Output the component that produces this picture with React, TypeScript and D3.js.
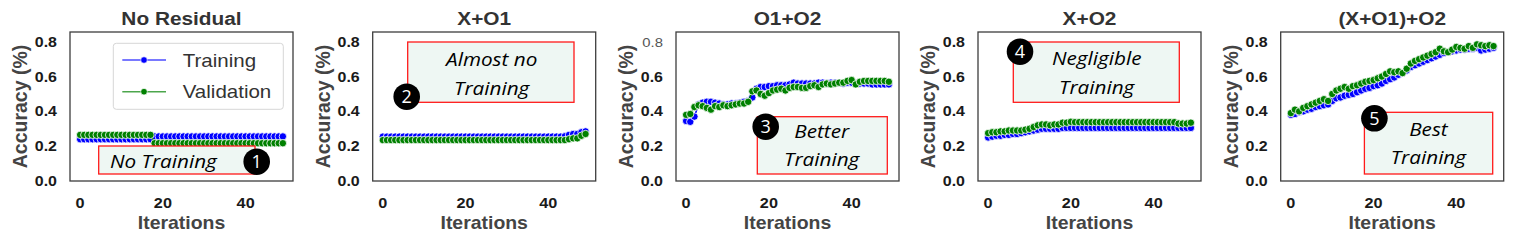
import React from "react";
import * as d3 from "d3";

const titles = ["No Residual", "X+O1", "O1+O2", "X+O2", "(X+O1)+O2"];
const seriesNames = ["Training", "Validation"];
const yTicks = [0, 0.2, 0.4, 0.6, 0.8];
const xTicks = [0, 20, 40];

const trainNoRes = [
  0.24, 0.24, 0.24, 0.24, 0.24, 0.24, 0.24, 0.24, 0.24, 0.24,
  0.24, 0.24, 0.24, 0.24, 0.24, 0.24, 0.24, 0.24, 0.256, 0.256,
  0.256, 0.256, 0.256, 0.256, 0.256, 0.256, 0.256, 0.256, 0.256, 0.256,
  0.256, 0.256, 0.256, 0.256, 0.256, 0.256, 0.256, 0.256, 0.256, 0.256,
  0.256, 0.256, 0.256, 0.256, 0.256, 0.256, 0.256, 0.256, 0.256, 0.256,
];
const valNoRes = [
  0.265, 0.265, 0.265, 0.265, 0.265, 0.265, 0.265, 0.265, 0.265, 0.265,
  0.265, 0.265, 0.265, 0.265, 0.265, 0.265, 0.265, 0.265, 0.217, 0.217,
  0.217, 0.217, 0.217, 0.217, 0.217, 0.217, 0.217, 0.217, 0.217, 0.217,
  0.217, 0.217, 0.217, 0.217, 0.217, 0.217, 0.217, 0.217, 0.217, 0.217,
  0.217, 0.217, 0.217, 0.217, 0.217, 0.217, 0.217, 0.217, 0.217, 0.217,
];
const trainXO1 = [
  0.255, 0.255, 0.255, 0.255, 0.255, 0.255, 0.255, 0.255, 0.255, 0.255,
  0.255, 0.255, 0.255, 0.255, 0.255, 0.255, 0.255, 0.255, 0.255, 0.255,
  0.255, 0.255, 0.255, 0.255, 0.255, 0.255, 0.255, 0.255, 0.255, 0.255,
  0.255, 0.255, 0.255, 0.255, 0.255, 0.255, 0.255, 0.255, 0.255, 0.255,
  0.255, 0.255, 0.255, 0.255, 0.257, 0.265, 0.27, 0.27, 0.28, 0.285,
];
const valXO1 = [
  0.235, 0.235, 0.235, 0.235, 0.235, 0.235, 0.235, 0.235, 0.235, 0.235,
  0.235, 0.235, 0.235, 0.235, 0.235, 0.235, 0.235, 0.235, 0.235, 0.235,
  0.235, 0.235, 0.235, 0.235, 0.235, 0.235, 0.235, 0.235, 0.235, 0.235,
  0.235, 0.235, 0.235, 0.235, 0.235, 0.235, 0.235, 0.235, 0.235, 0.235,
  0.235, 0.235, 0.235, 0.235, 0.235, 0.24, 0.245, 0.245, 0.26, 0.27,
];
const trainO1O2 = [
  0.345, 0.34, 0.37, 0.44, 0.45, 0.455, 0.455, 0.45, 0.445, 0.44,
  0.44, 0.445, 0.445, 0.45, 0.455, 0.46, 0.48, 0.53, 0.54, 0.54,
  0.545, 0.545, 0.55, 0.55, 0.55, 0.555, 0.565, 0.56, 0.56, 0.56,
  0.56, 0.56, 0.565, 0.565, 0.56, 0.565, 0.565, 0.565, 0.56, 0.565,
  0.565, 0.56, 0.56, 0.56, 0.56, 0.555, 0.555, 0.555, 0.555, 0.555,
];
const valO1O2 = [
  0.38, 0.385, 0.425, 0.435, 0.43, 0.42, 0.41, 0.43, 0.425, 0.435,
  0.43, 0.435, 0.44, 0.445, 0.445, 0.455, 0.515, 0.52, 0.5, 0.49,
  0.505, 0.52, 0.525, 0.53, 0.52, 0.535, 0.54, 0.54, 0.535, 0.535,
  0.545, 0.55, 0.54, 0.555, 0.56, 0.555, 0.56, 0.565, 0.565, 0.575,
  0.58, 0.555, 0.57, 0.575, 0.575, 0.575, 0.575, 0.575, 0.575, 0.57,
];
const trainXO2 = [
  0.25, 0.255, 0.26, 0.26, 0.265, 0.265, 0.27, 0.27, 0.275, 0.28,
  0.285, 0.29, 0.295, 0.3, 0.3, 0.3, 0.3, 0.3, 0.305, 0.305,
  0.305, 0.305, 0.305, 0.305, 0.305, 0.305, 0.305, 0.305, 0.305, 0.305,
  0.305, 0.305, 0.305, 0.305, 0.305, 0.305, 0.305, 0.305, 0.305, 0.305,
  0.305, 0.305, 0.305, 0.305, 0.305, 0.305, 0.305, 0.305, 0.305, 0.305,
];
const valXO2 = [
  0.275, 0.28, 0.28, 0.285, 0.285, 0.29, 0.29, 0.29, 0.29, 0.295,
  0.3, 0.31, 0.32, 0.325, 0.325, 0.32, 0.325, 0.325, 0.335, 0.335,
  0.34, 0.338, 0.338, 0.338, 0.338, 0.338, 0.338, 0.338, 0.338, 0.338,
  0.338, 0.338, 0.338, 0.338, 0.338, 0.338, 0.338, 0.338, 0.338, 0.338,
  0.338, 0.338, 0.338, 0.338, 0.338, 0.338, 0.33, 0.33, 0.33, 0.335,
];
const trainXO1O2 = [
  0.38, 0.385, 0.395, 0.4, 0.41, 0.415, 0.425, 0.43, 0.435, 0.44,
  0.46, 0.475, 0.48, 0.49, 0.495, 0.5, 0.51, 0.52, 0.53, 0.535,
  0.545, 0.55, 0.56, 0.575, 0.585, 0.595, 0.61, 0.62, 0.635, 0.655,
  0.665, 0.675, 0.685, 0.695, 0.705, 0.715, 0.725, 0.735, 0.74, 0.745,
  0.75, 0.755, 0.755, 0.76, 0.76, 0.765, 0.75, 0.755, 0.76, 0.765,
];
const valXO1O2 = [
  0.39, 0.41, 0.4, 0.42, 0.43, 0.44, 0.45, 0.46, 0.47, 0.46,
  0.5, 0.52, 0.53, 0.54, 0.53, 0.545, 0.55, 0.56, 0.57, 0.575,
  0.58, 0.59, 0.6, 0.615, 0.63, 0.625, 0.63, 0.62, 0.645, 0.675,
  0.69, 0.7, 0.71, 0.72, 0.73, 0.74, 0.76, 0.745, 0.74, 0.755,
  0.77, 0.765, 0.76, 0.775, 0.765, 0.785, 0.78, 0.775, 0.78, 0.775,
];

const trainSeries = [trainNoRes, trainXO1, trainO1O2, trainXO2, trainXO1O2];
const valSeries = [valNoRes, valXO1, valO1O2, valXO2, valXO1O2];

const annotationLines = [
  ["No Training"],
  ["Almost no", "Training"],
  ["Better", "Training"],
  ["Negligible", "Training"],
  ["Best", "Training"],
];
const annotationNumbers = ["1", "2", "3", "4", "5"];

// layout (pixel offsets relative to each panel frame)
const layout = {
  lefts: [70, 372.7, 676, 978, 1280.7],
  width: 223,
  top: 32,
  bottom: 181,
};
const boxes = [
  { x0: 28.7, x1: 185, y0: 114, y1: 142, tx: 40, anchor: "start", base: [136], cx: 186.7, cy: 129.7 },
  { x0: 35, x1: 201.3, y0: 10, y1: 70.3, tx: 119, anchor: "middle", base: [34, 62.5], cx: 34, cy: 64.7 },
  { x0: 81.3, x1: 211.3, y0: 84.7, y1: 142, tx: 145.7, anchor: "middle", base: [106, 133.7], cx: 89.7, cy: 94.7 },
  { x0: 35.3, x1: 201.3, y0: 10, y1: 70.3, tx: 118.7, anchor: "middle", base: [33, 62.3], cx: 42, cy: 19.7 },
  { x0: 83.7, x1: 212, y0: 80.3, y1: 142, tx: 147.7, anchor: "middle", base: [103.7, 132], cx: 93.7, cy: 86.3 },
];

const COLORS = ["#0000ff", "#008000"];
const FONT = "'Liberation Sans', Arial, sans-serif";
const ITALIC_FONT = "'Open Sans', 'Noto Sans', sans-serif";

function T(props: any) {
  const { x, y, sx = 1, children, ...rest } = props;
  return (
    <text transform={`translate(${x},${y}) scale(${sx},1)`} {...rest}>
      {children}
    </text>
  );
}

function Panel({ k }: { k: number }) {
  const left = layout.lefts[k];
  const { width, top, bottom } = layout;
  const x = d3.scaleLinear().domain([-2.45, 51.45]).range([left, left + width]);
  const y = d3.scaleLinear().domain([0, 0.856]).range([bottom, top]);
  const line = d3
    .line<number>()
    .x((_, i) => x(i))
    .y((d) => y(d));
  const series = [trainSeries[k], valSeries[k]];
  const b = boxes[k];
  return (
    <g>
      <rect x={left} y={top} width={width} height={bottom - top} fill="white" />
      {series.map((s, si) => (
        <g key={si}>
          <path d={line(s) || ""} fill="none" stroke={COLORS[si]} strokeWidth={1.5} />
          {s.map((v, i) => (
            <circle key={i} cx={x(i)} cy={y(v)} r={3.7} fill={COLORS[si]} stroke="white" strokeWidth={0.8} />
          ))}
        </g>
      ))}
      <rect x={left} y={top} width={width} height={bottom - top} fill="none" stroke="#3d3d3d" strokeWidth={1.3} />
      <T x={left + width / 2} y={25} sx={1.12} textAnchor="middle" fontFamily={FONT} fontWeight="bold" fontSize={18.6} fill="#333">
        {titles[k]}
      </T>
      {yTicks.map((t) => {
        const light = k === 2 && t === 0.8;
        return (
          <T
            key={t}
            x={left - 13}
            y={y(t) + 5}
            sx={1.1}
            textAnchor="end"
            fontFamily={FONT}
            fontWeight={light ? "normal" : "bold"}
            fontSize={light ? 13.5 : 14.5}
            fill={light ? "#555" : "#1a1a1a"}
          >
            {t.toFixed(1)}
          </T>
        );
      })}
      {xTicks.map((t) => (
        <T key={t} x={x(t)} y={208} sx={1.12} textAnchor="middle" fontFamily={FONT} fontWeight="bold" fontSize={14.5} fill="#1a1a1a">
          {t}
        </T>
      ))}
      <T x={left + width / 2} y={229} sx={1.08} textAnchor="middle" fontFamily={FONT} fontWeight="bold" fontSize={18} fill="#444">
        Iterations
      </T>
      <text
        transform={`translate(${left - 43},${(top + bottom) / 2}) rotate(-90)`}
        textAnchor="middle"
        fontFamily={FONT}
        fontWeight="bold"
        fontSize={19.5}
        fill="#444"
      >
        Accuracy (%)
      </text>
      {k === 0 && (
        <g>
          <rect x={113.3} y={43.3} width={170} height={66} rx={3} fill="white" fillOpacity={0.85} stroke="#d6d6d6" strokeWidth={1} />
          {seriesNames.map((n, si) => {
            const cy = 60 + si * 31.7;
            return (
              <g key={n}>
                <line x1={122.3} x2={166} y1={cy} y2={cy} stroke={COLORS[si]} strokeOpacity={0.7} strokeWidth={1.5} />
                <circle cx={144} cy={cy} r={3.3} fill={COLORS[si]} stroke="white" strokeWidth={0.7} />
                <T x={182.7} y={cy + 6.5} sx={1.14} fontFamily={FONT} fontSize={18} fill="#333">
                  {n}
                </T>
              </g>
            );
          })}
        </g>
      )}
      <g>
        <rect
          x={left + b.x0}
          y={top + b.y0}
          width={b.x1 - b.x0}
          height={b.y1 - b.y0}
          fill="#eef7f3"
          stroke="#ff1a1a"
          strokeWidth={1.3}
        />
        {annotationLines[k].map((t, li) => (
          <T
            key={li}
            x={left + b.tx}
            y={top + b.base[li]}
            sx={1.12}
            textAnchor={b.anchor}
            fontFamily={ITALIC_FONT}
            fontStyle="italic"
            fontSize={18.5}
            fill="#000"
          >
            {t}
          </T>
        ))}
        <circle cx={left + b.cx} cy={top + b.cy} r={13.3} fill="#000" />
        <text x={left + b.cx} y={top + b.cy + 6.5} textAnchor="middle" fontFamily={ITALIC_FONT} fontSize={18} fill="white">
          {annotationNumbers[k]}
        </text>
      </g>
    </g>
  );
}

export default function App() {
  return (
    <svg width={1514} height={245} style={{ position: "absolute", left: 0, top: 0, background: "white" }}>
      <rect width={1514} height={245} fill="white" />
      {titles.map((_, k) => (
        <Panel key={k} k={k} />
      ))}
    </svg>
  );
}
